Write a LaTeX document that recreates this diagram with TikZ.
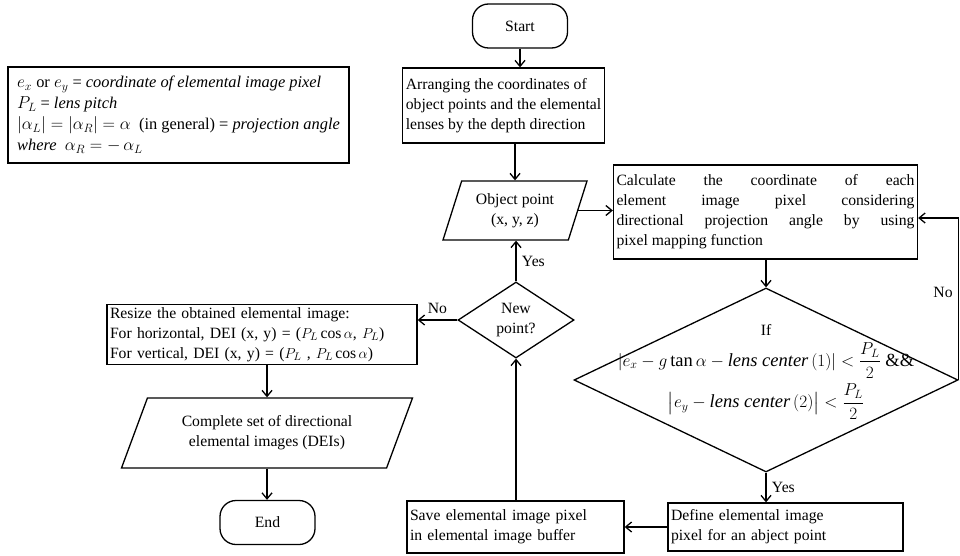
\documentclass[tikz,border=0pt]{standalone}
\usepackage{amsmath,amssymb}
\usepackage{fontspec}
\setmainfont{Liberation Serif}
\usetikzlibrary{positioning,shapes.geometric,arrows.meta,calc}
\newcommand{\fsz}{\fontsize{15.7}{20}\selectfont\hyphenpenalty=10000}

\begin{document}
\begin{tikzpicture}[
    x=1pt, y=-1pt,
    line width=1.3pt,
    every node/.style={font=\fsz},
    box/.style={rectangle,draw,inner sep=3pt,align=left},
    termbox/.style={rectangle,draw,rounded corners=16pt,minimum width=95pt,minimum height=44pt},
    iobox/.style={trapezium,draw,trapezium left angle=64,trapezium right angle=116,trapezium stretches body,inner sep=2pt,align=center},
    iowide/.style={iobox,trapezium left angle=56,trapezium right angle=124},
    decision/.style={diamond,draw,aspect=2,inner sep=0pt,align=center},
    arrow/.style={-{Straight Barb[length=6pt,width=10pt]}}
]
\useasboundingbox (0,0) rectangle (960,556);

% Legend
\node[box,minimum width=341pt,minimum height=96pt,font=\fontsize{16.4}{21}\selectfont] (legend) at (178.5,115) {$e_x$ or $e_y$ = \textit{coordinate of elemental image pixel}\\
$P_L$ = \textit{lens pitch}\\
$|\alpha_L| = |\alpha_R| = \alpha$~ (in general) = \textit{projection angle}\\
\textit{where}~ $\alpha_R = -\,\alpha_L$};

% Main column
\node[termbox] (start) at (520,26) {Start};
\node[box,minimum width=197pt,minimum height=75pt] (arrange) at (503.5,105.5) {Arranging the coordinates of\\object points and the elemental\\lenses by the depth direction};
\node[iobox,minimum width=144pt,minimum height=59pt] (obj) at (515,210.5) {Object point\\(x, y, z)};
\node[decision,aspect=1.5,minimum width=116pt,minimum height=76pt] (newpt) at (516,320) {New\\point?};
\node[box,text width=211pt,minimum height=52pt] (save) at (515.5,527) {Save elemental image pixel\\in elemental image buffer};

% Right column
\node[box,text width=298pt,align=justify,minimum height=94pt] (calc) at (765.5,212) {Calculate the coordinate of each\linebreak element image pixel considering\linebreak directional projection angle by using\linebreak pixel mapping function};
\node[decision,minimum width=384pt,minimum height=184pt] (check) at (766,380) {};
\node[align=center,font=\fontsize{18.5}{22}\selectfont] (cond) at (766,372) {{\fsz If}\\[6pt]
$|e_x - g\tan\alpha - \text{\itshape lens center}\,(1)| < \dfrac{P_L}{2}$ \&\&\\[5pt]
$\bigl|e_y - \text{\itshape lens center}\,(2)\bigr| < \dfrac{P_L}{2}$};
\node[box,text width=229pt,minimum height=48pt] (define) at (785.5,527) {Define elemental image\\pixel for an abject point};

% Left column
\node[box,text width=304pt,minimum height=57pt] (resize) at (262,334.5) {Resize the obtained elemental image:\\For horizontal, DEI (x, y) = ($P_L\cos\alpha$, $P_L$)\\For vertical, DEI (x, y) = ($P_L$ , $P_L\cos\alpha$)};
\node[iowide,minimum width=291pt,minimum height=70pt] (complete) at (267,433) {Complete set of directional\\elemental images (DEIs)};
\node[termbox] (end) at (267.5,522.5) {End};

% Connectors
\draw[arrow] (start) -- (start |- arrange.north);
\draw[arrow] (obj.north |- arrange.south) -- (obj.north);
\draw[arrow] (obj.east) -- (obj.east -| calc.west);
\draw[arrow] (calc.south -| check.north) -- (check.north);
\draw[arrow] (check.south) -- node[right=2pt] {Yes} (check.south |- define.north);
\draw[arrow] (check.east) |- node[pos=0.27,left=2pt] {No} ([yshift=-6pt]calc.east);
\draw[arrow] (define) -- (save);
\draw[arrow] (save.north -| newpt.south) -- (newpt.south);
\draw[arrow] (newpt.north) -- node[right=2pt] {Yes} (newpt.north |- obj.south);
\draw[arrow] (newpt.west) -- node[above=2pt] {No} (newpt.west -| resize.east);
\draw[arrow] (resize.south -| complete.north) -- (complete.north);
\draw[arrow] (complete.south) -- (complete.south |- end.north);
\end{tikzpicture}
\end{document}
